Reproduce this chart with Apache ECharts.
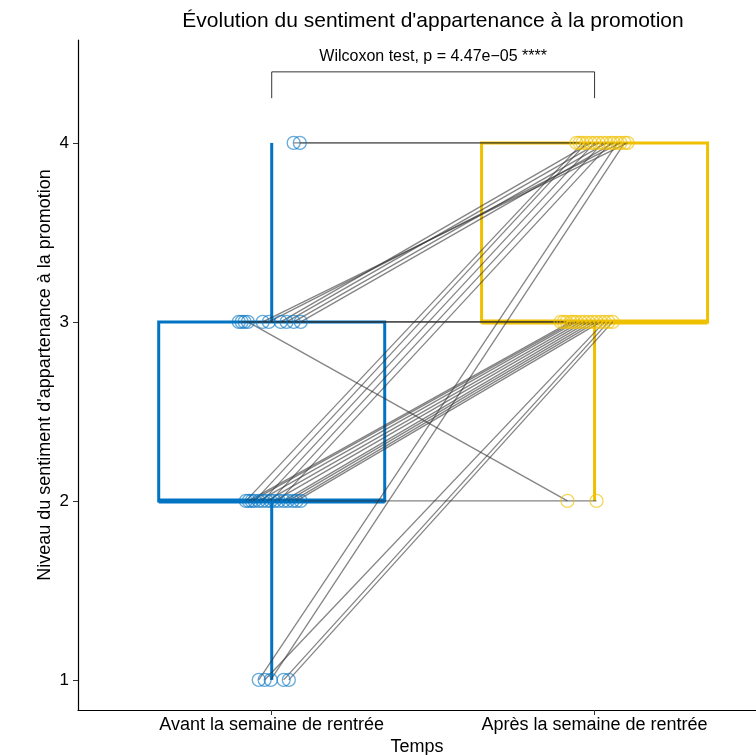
<!DOCTYPE html>
<html>
<head>
<meta charset="utf-8">
<script src="https://cdn.jsdelivr.net/npm/echarts@6/dist/echarts.min.js"></script>
<style>
html,body{margin:0;padding:0;background:#fff;}
#chart{width:756px;height:755px;}
</style>
</head>
<body>
<div id="chart"></div>
<script>
// ---- Data ----
var groups = ['Avant la semaine de rentrée', 'Après la semaine de rentrée'];
var groupColors = ['#0073C2', '#EFC000'];
// paired scores (one entry per student)
var before = [4,4, 3,3,3,3,3,3, 3,3,3, 3, 2,2,2,2,2, 2,2,2,2,2,2,2,2,2, 2, 1,1, 1,1,1];
var after  = [4,4, 4,4,4,4,4,4, 3,3,3, 2, 4,4,4,4,4, 3,3,3,3,3,3,3,3,3, 2, 4,4, 3,3,3];
// horizontal jitter (in category units)
var jitterBefore = [0.087,0.068, 0.028,0.046,0.068,0.090,-0.009,-0.028, -0.102,-0.093,-0.084, -0.074,
  -0.080,-0.053,-0.028,-0.003,0.022, -0.071,-0.062,-0.040,-0.015,0.009,0.037,0.050,0.065,0.077, 0.090,
  -0.040,-0.003, -0.022,0.037,0.053];
var jitterAfter = [-0.056,-0.046, -0.012,0.012,0.037,0.059,0.080,0.102, -0.105,-0.096,-0.087, -0.084,
  -0.037,-0.025,0.000,0.025,0.050, -0.074,-0.065,-0.056,-0.043,-0.031,-0.019,-0.006,0.006,0.019, 0.006,
  0.071,0.093, 0.031,0.043,0.056];
var yTicks = [1, 2, 3, 4];
var testLabel = 'Wilcoxon test, p = 4.47e\u221205 ****';
var bracket = {from: 1, to: 2, top: 4.397, bottom: 4.25, labelY: 4.48};

// ---- Box statistics (type-7 quantiles, 1.5 IQR whiskers) ----
function quantile(sorted, p) {
  var h = (sorted.length - 1) * p, lo = Math.floor(h), hi = Math.ceil(h);
  return sorted[lo] + (h - lo) * (sorted[hi] - sorted[lo]);
}
function boxStats(vals, pos) {
  var s = vals.slice().sort(function(a,b){return a-b;});
  var q1 = quantile(s, 0.25), med = quantile(s, 0.5), q3 = quantile(s, 0.75);
  var iqr = q3 - q1;
  var lo = s.filter(function(v){return v >= q1 - 1.5*iqr;})[0];
  var hiArr = s.filter(function(v){return v <= q3 + 1.5*iqr;});
  var hi = hiArr[hiArr.length-1];
  return [pos, lo, q1, med, q3, hi];
}
var boxes = [boxStats(before, 1), boxStats(after, 2)];

var pairLines = before.map(function(b, i) {
  return [1 + jitterBefore[i], b, 2 + jitterAfter[i], after[i]];
});
var ptsBefore = before.map(function(b, i){ return [1 + jitterBefore[i], b]; });
var ptsAfter = after.map(function(a, i){ return [2 + jitterAfter[i], a]; });

var FONT = '"Liberation Sans", Arial, Helvetica, sans-serif';
var chart = echarts.init(document.getElementById('chart'));

var option = {
  backgroundColor: '#fff',
  animation: false,
  graphic: [{
    type: 'text', x: 433, y: 21,
    style: {text: "Évolution du sentiment d'appartenance à la promotion", font: '21px ' + FONT, fill: '#000', align: 'center', verticalAlign: 'middle'}
  }],
  grid: {left: 78, right: 0, top: 40, bottom: 45, containLabel: false, outerBoundsMode: 'none'},
  xAxis: {
    type: 'value', min: 0.4, max: 2.5,
    name: 'Temps', nameLocation: 'middle', nameGap: 28, nameMoveOverlap: false,
    nameTextStyle: {fontFamily: FONT, fontSize: 18, color: '#000', verticalAlign: 'top'},
    axisLine: {show: true, onZero: false, lineStyle: {color: '#000', width: 1.2}},
    axisTick: {show: true, length: 5, customValues: [1, 2], lineStyle: {color: '#333'}},
    axisLabel: {customValues: [1, 2], margin: 6, fontFamily: FONT, fontSize: 18, color: '#000',
      formatter: function(v){ return groups[Math.round(v) - 1] || ''; }},
    splitLine: {show: false}
  },
  yAxis: {
    type: 'value', min: 0.832, max: 4.575,
    name: "Niveau du sentiment d'appartenance à la promotion", nameLocation: 'middle', nameGap: 24, nameMoveOverlap: false,
    nameTextStyle: {fontFamily: FONT, fontSize: 18, color: '#000'},
    axisLine: {show: true, onZero: false, lineStyle: {color: '#000', width: 1.2}},
    axisTick: {show: true, length: 5, customValues: yTicks, lineStyle: {color: '#333'}},
    axisLabel: {customValues: yTicks, margin: 9, fontFamily: FONT, fontSize: 17, color: '#000'},
    splitLine: {show: false}
  },
  series: [
    {
      type: 'custom', z: 2,
      data: boxes,
      renderItem: function(params, api) {
        var x = api.value(0), half = 0.35;
        var col = groupColors[params.dataIndex];
        var pLo = api.coord([x, api.value(1)]), pQ1 = api.coord([x, api.value(2)]);
        var pMed = api.coord([x, api.value(3)]), pQ3 = api.coord([x, api.value(4)]);
        var pHi = api.coord([x, api.value(5)]);
        var L = api.coord([x - half, 0])[0], R = api.coord([x + half, 0])[0];
        var st = {stroke: col, lineWidth: 3, fill: null};
        return {type: 'group', children: [
          {type: 'line', shape: {x1: pLo[0], y1: pLo[1], x2: pQ1[0], y2: pQ1[1]}, style: st},
          {type: 'line', shape: {x1: pQ3[0], y1: pQ3[1], x2: pHi[0], y2: pHi[1]}, style: st},
          {type: 'rect', shape: {x: L, y: pQ3[1], width: R - L, height: pQ1[1] - pQ3[1]}, style: {stroke: col, lineWidth: 3, fill: 'none'}},
          {type: 'line', shape: {x1: L, y1: pMed[1], x2: R, y2: pMed[1]}, style: {stroke: col, lineWidth: 5}}
        ]};
      }
    },
    {
      type: 'custom', z: 3,
      data: pairLines,
      renderItem: function(params, api) {
        var a = api.coord([api.value(0), api.value(1)]);
        var b = api.coord([api.value(2), api.value(3)]);
        return {type: 'line', shape: {x1: a[0], y1: a[1], x2: b[0], y2: b[1]},
          style: {stroke: 'rgba(50,50,50,0.6)', lineWidth: 1.3}};
      }
    },
    {
      type: 'scatter', z: 4, data: ptsBefore, symbol: 'circle', symbolSize: 13,
      itemStyle: {color: 'rgba(0,0,0,0)', borderColor: 'rgba(0,115,194,0.75)', borderWidth: 1.3}
    },
    {
      type: 'scatter', z: 4, data: ptsAfter, symbol: 'circle', symbolSize: 13,
      itemStyle: {color: 'rgba(0,0,0,0)', borderColor: 'rgba(239,192,0,0.8)', borderWidth: 1.3}
    },
    {
      type: 'custom', z: 5,
      data: [[bracket.from, bracket.to, bracket.top, bracket.bottom, bracket.labelY]],
      renderItem: function(params, api) {
        var p1b = api.coord([api.value(0), api.value(3)]);
        var p1t = api.coord([api.value(0), api.value(2)]);
        var p2t = api.coord([api.value(1), api.value(2)]);
        var p2b = api.coord([api.value(1), api.value(3)]);
        var lab = api.coord([(api.value(0) + api.value(1)) / 2, api.value(4)]);
        return {type: 'group', children: [
          {type: 'polyline', shape: {points: [p1b, p1t, p2t, p2b]}, style: {stroke: '#000', lineWidth: 0.8, fill: null}},
          {type: 'text', x: lab[0], y: lab[1], style: {text: testLabel, font: '16px ' + FONT, fill: '#000', align: 'center', verticalAlign: 'middle'}}
        ]};
      }
    }
  ]
};
chart.setOption(option);
</script>
</body>
</html>
